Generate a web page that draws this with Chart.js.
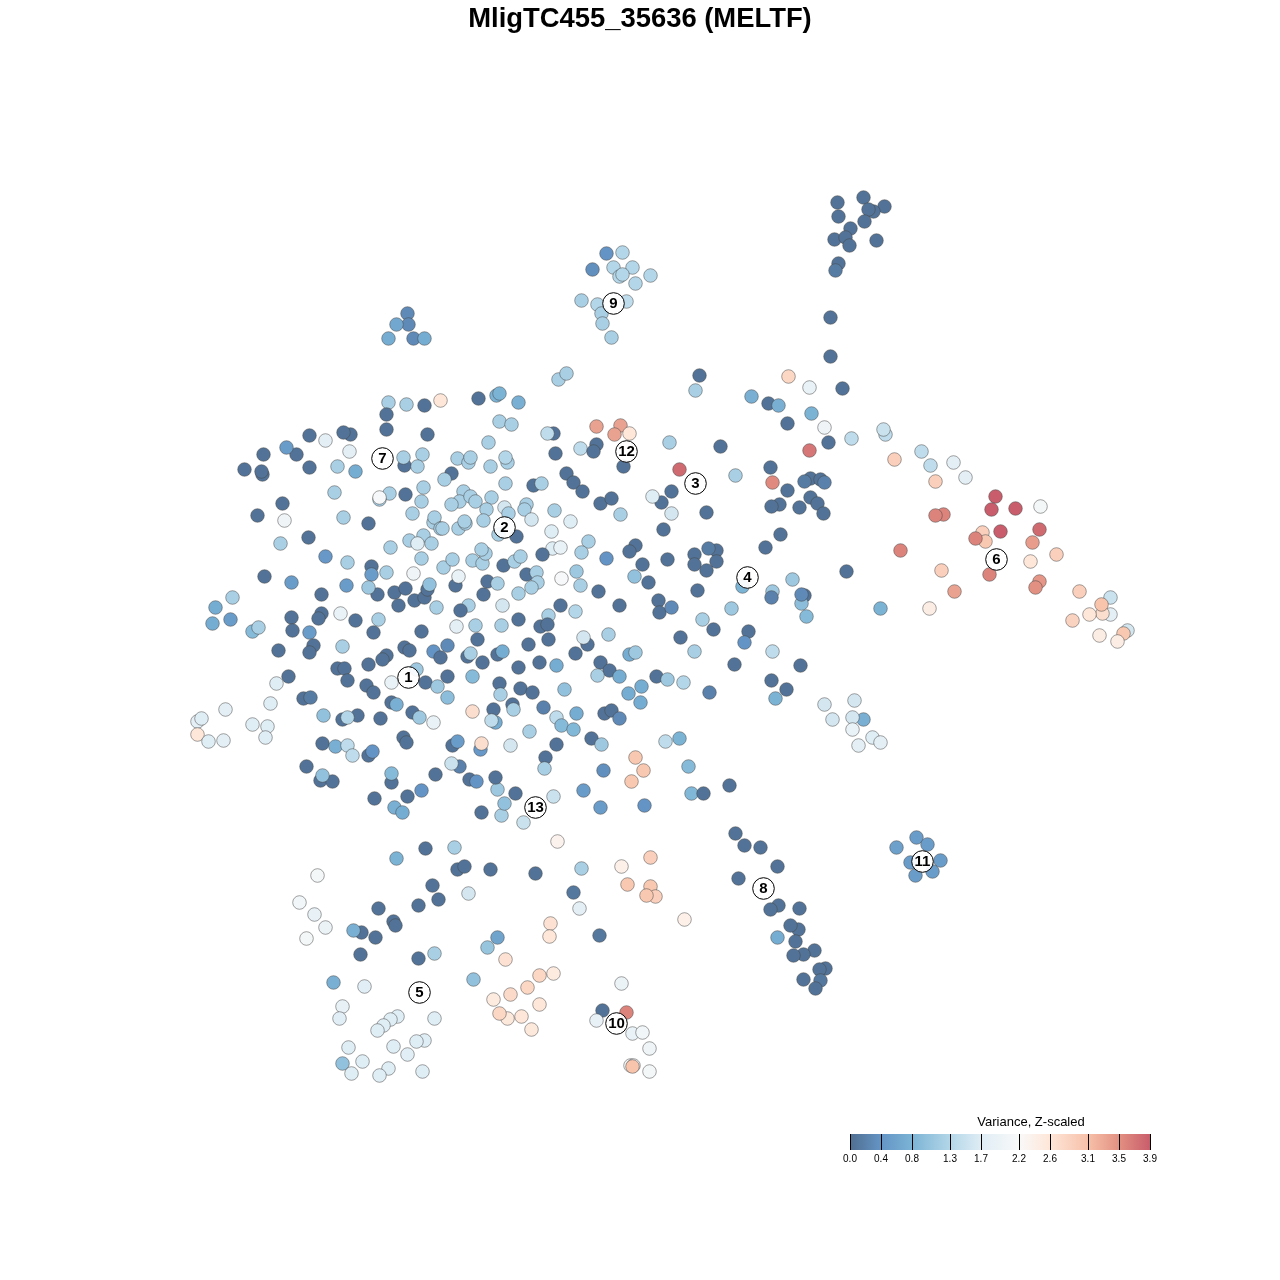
<!DOCTYPE html>
<html>
<head>
<meta charset="utf-8">
<title>MligTC455_35636 (MELTF)</title>
<script src="https://cdn.jsdelivr.net/npm/chart.js@4/dist/chart.umd.min.js"></script>
<style>
  html, body { margin: 0; padding: 0; background: #fff; }
  canvas { display: block; }
</style>
</head>
<body>
<canvas id="tsne" width="1280" height="1280"></canvas>
<script>
// t-SNE positions, one cell per entry, same row layout in all three arrays
const cellX = [
  388,406,424,386,386,427,309,325,350,343,
  349,263,296,286,244,262,261,309,337,355,
  404,403,422,417,334,389,379,379,405,423,
  421,412,282,257,284,343,368,280,308,325,
  347,371,371,386,390,409,423,431,417,421,
  413,433,434,440,264,291,346,321,377,394,
  405,414,424,427,429,398,368,232,215,212,
  230,291,321,318,340,355,378,436,252,258,
  292,309,373,421,342,313,309,278,368,404,
  409,433,440,386,382,337,344,347,288,276,
  270,225,197,201,197,208,223,252,267,265,
  303,310,323,342,357,347,380,366,373,391,
  416,425,437,391,396,412,419,433,322,335,
  347,352,368,372,403,406,306,320,332,322,
  391,391,374,407,421,394,402,425,396,435,
  440,478,496,499,518,499,511,488,457,468,
  470,490,507,505,451,444,505,463,459,451,
  470,475,491,486,483,442,458,465,464,504,
  508,498,516,526,524,531,533,541,554,570,
  551,588,581,552,560,542,606,635,629,642,
  667,634,648,598,619,658,659,671,576,580,
  561,560,575,548,540,547,518,501,502,518,
  483,468,460,456,475,487,497,455,458,503,
  514,520,526,536,537,531,443,452,472,482,
  485,481,553,547,555,596,620,614,629,580,
  596,593,623,669,679,566,573,582,600,611,
  620,661,652,671,671,663,558,566,608,548,
  528,477,447,467,470,482,497,502,518,539,
  556,472,447,447,499,500,520,532,564,472,
  493,495,491,512,513,543,556,561,576,573,
  529,510,556,545,544,591,601,635,643,631,
  603,665,679,688,583,600,644,553,523,501,
  504,497,515,495,469,476,481,459,451,452,
  457,480,481,454,557,650,621,581,457,464,
  490,535,587,583,575,600,609,597,619,629,
  635,680,656,667,683,641,628,640,604,
  611,619,694,697,742,772,771,804,801,801,
  806,880,929,731,702,713,748,744,772,734,
  800,771,786,775,709,824,854,832,863,852,
  852,872,880,858,691,703,729,735,744,760,
  896,916,927,910,940,932,915,699,695,751,
  768,778,788,809,842,811,787,824,828,851,
  885,883,894,720,809,770,735,772,810,804,
  820,824,787,810,817,823,799,779,771,706,
  780,765,716,708,694,694,716,706,900,846,
  792,863,884,837,873,868,838,864,850,834,
  845,849,876,838,835,830,830,921,930,953,
  935,965,995,991,1015,1040,943,935,982,985,
  975,1000,1039,1032,1056,1030,989,941,1039,1035,
  954,1079,1110,1110,1102,1101,1089,1072,1127,1123,
  1099,1117,317,299,314,325,306,432,438,
  418,468,378,393,395,361,353,375,360,418,
  434,497,487,505,333,364,473,342,339,434,
  397,390,383,377,424,416,393,348,407,362,
  342,351,388,379,422,627,650,655,646,684,
  573,579,550,549,599,553,539,527,510,493,
  539,507,499,521,531,621,602,626,596,632,
  642,649,630,633,632,649,777,738,778,770,
  799,798,790,777,795,814,803,793,825,819,
  803,820,815,407,408,396,388,413,424,606,
  622,592,613,632,619,622,650,635,581,597,
  626,601,602,611
];
const cellY = [
  402,404,405,414,429,434,435,440,434,432,
  451,454,454,447,469,474,471,467,466,471,
  465,457,454,466,492,493,499,497,494,487,
  501,513,503,515,520,517,523,543,537,556,
  562,566,574,572,547,540,535,543,543,558,
  573,522,517,528,576,582,585,594,594,592,
  588,600,597,589,584,605,587,597,607,623,
  619,617,613,618,613,620,619,607,631,627,
  630,632,632,631,646,645,652,650,664,647,
  650,651,657,655,659,668,668,680,676,683,
  703,709,721,718,734,741,740,724,726,737,
  698,697,715,719,715,717,718,685,692,682,
  669,682,686,702,704,712,717,722,743,746,
  745,755,755,751,737,742,766,780,781,775,
  782,773,798,796,790,807,812,848,858,774,
  400,398,395,393,402,421,424,442,458,462,
  457,466,462,457,473,479,483,491,501,504,
  496,501,497,509,520,528,528,523,521,507,
  513,534,536,504,509,519,485,483,510,521,
  531,541,552,548,547,554,558,545,551,564,
  559,576,582,591,605,600,612,607,571,585,
  578,605,611,615,626,624,619,625,605,593,
  594,605,610,626,625,581,583,585,576,565,
  561,556,574,572,582,587,567,559,560,563,
  553,549,433,433,453,426,425,434,433,448,
  444,451,466,442,469,473,482,491,503,498,
  514,502,496,491,513,529,379,373,634,639,
  644,639,645,656,653,662,654,651,667,662,
  665,676,676,697,683,694,688,692,689,711,
  709,722,720,704,709,707,717,725,713,729,
  731,745,744,757,768,738,744,757,770,781,
  770,741,738,766,790,807,805,796,822,815,
  803,789,793,777,779,781,812,766,763,745,
  741,749,743,847,841,857,866,868,869,866,
  869,873,644,637,653,662,670,675,676,654,
  652,637,676,679,682,686,693,702,713,
  710,718,651,590,586,591,597,595,603,594,
  616,608,608,608,619,629,631,642,651,664,
  665,680,689,698,692,704,700,719,719,717,
  729,737,742,745,793,793,785,833,845,847,
  847,837,844,862,860,871,875,375,390,396,
  403,405,376,387,388,413,423,427,442,438,
  434,429,459,446,450,467,475,482,478,481,
  479,482,490,497,503,513,507,504,506,512,
  534,547,550,548,554,564,561,570,550,571,
  579,197,206,202,211,209,216,221,228,239,
  237,245,240,263,270,317,356,451,465,462,
  481,477,496,509,508,506,514,515,532,541,
  538,531,529,542,554,561,574,570,581,587,
  591,591,597,614,613,604,614,620,630,633,
  635,641,875,902,914,927,938,885,899,
  905,893,908,921,925,932,930,937,954,958,
  953,937,947,959,982,986,979,1006,1018,1018,
  1016,1019,1025,1030,1040,1041,1046,1047,1054,1061,
  1063,1073,1068,1075,1071,884,886,896,895,919,
  892,908,923,936,935,973,975,987,994,999,
  1004,1018,1013,1016,1029,983,1010,1012,1020,1033,
  1032,1048,1065,1065,1066,1071,866,878,905,909,
  908,929,925,937,941,950,954,955,968,969,
  979,980,988,313,324,324,338,338,338,253,
  252,269,267,267,276,274,275,283,300,304,
  301,313,323,337
];
const cellVariance = [
  1.2,1.2,.05,.05,.05,.05,.05,1.8,.05,.05,
  1.8,.05,.05,.5,.05,.05,.05,.05,1.2,.7,
  .05,1.2,1.2,1.2,1.2,1.2,1.2,2.15,.05,1.2,
  1.2,1.2,.05,.05,2,1.2,.05,1.2,.05,.45,
  1.2,.05,.5,1.2,1.2,1.2,1.2,1.2,1.7,1.2,
  2,1.2,1.2,1.2,.05,.5,.5,.05,.05,.05,
  .05,.05,.05,.05,1,.05,1.1,1.2,.7,.7,
  .5,.05,.05,.05,1.9,.05,1.2,1.2,.9,1.2,
  .05,.5,.05,.05,1.2,.05,.05,.05,.05,.05,
  .05,.4,.05,.05,.05,.05,.05,.05,.05,1.7,
  1.7,1.8,1.8,1.7,2.6,1.7,1.8,1.7,1.7,1.7,
  .05,.15,1,.05,.05,1.3,.05,.05,.05,1.9,
  1.1,.05,1.1,.05,.75,.05,1.1,1.9,.05,.75,
  1.4,1.4,.05,.4,.05,.05,.05,.05,.05,1,
  .05,.9,.05,.05,.4,.75,.7,.05,.8,.05,
  2.6,.05,.8,.8,.75,1.2,1.2,1.2,1.2,1.2,
  1.2,1.2,1.2,1.3,.05,1.2,1.2,1.2,1.2,1.2,
  1.2,1.2,1.2,1.2,1.2,1.2,1.2,1.2,1.2,1.6,
  1.2,1.2,.05,1.2,1.2,1.6,.05,1.2,1.2,1.7,
  1.7,1.2,1.2,1.7,1.9,.05,.4,.05,.05,.05,
  .05,1,.05,.05,.05,.05,.05,.3,1.1,1.2,
  2.15,.05,1.3,1.2,.05,.05,.05,1.2,1.6,1.2,
  .05,1.2,.05,1.8,1.2,.05,1.2,.05,1.9,.05,
  1.2,1.2,.05,1.2,1.2,1.2,1.2,1.2,1.2,1.2,
  1.2,1.2,.05,1.4,.05,3.35,3.35,3.35,2.6,1.4,
  .05,.05,.05,1.2,3.8,.05,.05,.05,.05,.05,
  1.2,.05,1.7,.05,1.6,.05,1.2,1.2,1.2,.05,
  .05,.05,.3,.05,1.2,.05,.05,.7,.05,.05,
  .7,.9,.05,.95,.05,1.2,.05,.05,1,2.7,
  .05,.7,1.4,.05,1.2,.2,1.4,.9,.7,.85,
  1.2,1.6,.05,.05,1.2,.05,1.1,3,3,3,
  .35,1.4,.8,.9,.5,.5,.4,1.5,1.5,1.2,
  1,1.1,.05,.05,.05,.4,.05,.2,1.5,.05,
  .5,.45,2.7,1.2,2.35,2.9,2.4,1.2,.05,.05,
  .05,.05,.05,1.6,.05,.05,.05,1.2,.7,.7,
  1.1,.05,.05,1.1,1.3,.7,.7,.7,.05,
  .05,.3,1.2,.05,.8,1.1,.2,.05,.95,.3,
  .9,.8,2.45,1.1,1.2,.05,.05,.4,1.4,.05,
  .05,.05,.05,.8,.2,1.6,1.6,1.6,.75,1.6,
  1.9,1.7,1.8,1.8,.85,.05,.05,.05,.05,.05,
  .55,.5,.5,.5,.5,.5,.5,.05,1.2,.75,
  .05,.75,2.8,1.9,.05,.8,.05,2,.05,1.4,
  1.4,1.5,2.9,.05,3.7,.05,1.2,3.55,.05,.15,
  .05,.2,.05,.05,.05,.05,.05,.05,.05,.05,
  .05,.05,.05,.15,.05,.05,.05,.05,3.6,.05,
  1.1,.05,.05,.05,.05,.05,.05,.05,.05,.05,
  .05,.05,.05,.05,.15,.05,.05,1.4,1.4,1.8,
  2.9,1.8,3.9,3.9,3.9,2.1,3.6,3.6,2.9,3,
  3.6,3.9,3.8,3.4,2.9,2.6,3.6,2.9,3.45,3.5,
  3.35,2.9,1.5,1.8,2.7,3.05,2.6,2.85,1.6,3,
  2.45,2.45,2.1,2.05,1.85,1.95,2.1,.05,.05,
  .05,1.6,.05,.05,.05,.05,.75,.05,.05,.05,
  1.2,.6,1.05,2.65,.75,1.75,1,1.85,1.75,1.7,
  1.7,1.7,1.7,1.7,1.7,1.7,1.7,1.7,1.75,1.7,
  1,1.7,1.7,1.7,1.7,3,3,2.9,3,2.4,
  .1,1.8,2.65,2.6,.1,2.5,2.8,2.8,2.75,2.5,
  2.6,2.55,2.8,2.6,2.55,1.95,.05,3.6,1.85,1.9,
  2.05,2,2.1,2.1,3.05,2.1,.05,.05,.05,.05,
  .05,.05,.05,.7,.05,.05,.05,.05,.05,.05,
  .05,.1,.05,.3,.3,.65,.7,.3,.7,.4,
  1.3,.35,1.3,1.3,1.3,1.3,1.3,1.3,1.2,1.3,
  1.4,1.2,1.2,1.2
];

// numbered cluster markers
const clusterX = [408,504,695,747,419,996,382,763,613,616,922,626,535];
const clusterY = [677,527,483,577,992,559,458,888,303,1023,861,451,807];
const clusterNames = ['1','2','3','4','5','6','7','8','9','10','11','12','13'];

// colour key
const keyTicks = [0, 0.4, 0.8, 1.3, 1.7, 2.2, 2.6, 3.1, 3.5, 3.9];
const keyTickLabels = ['0.0','0.4','0.8','1.3','1.7','2.2','2.6','3.1','3.5','3.9'];
const keyColors = ['#053061','#2166AC','#4393C3','#92C5DE','#D1E5F0','#F7F7F7','#FDDBC7','#F4A582','#D6604D','#B2182B'];

const FADE = 0.7; // palette is washed out towards white, points stay opaque
const KEY_LEFT = 850, KEY_RIGHT = 1150;
const TITLE_BOTTOM = 35.88; // height the title block takes, so pixel values map 1:1

function hexToRgb(h) {
    return [parseInt(h.slice(1, 3), 16), parseInt(h.slice(3, 5), 16), parseInt(h.slice(5, 7), 16)];
}

function colorFor(v) {
    let i = 0;
    while (i < keyTicks.length - 2 && v > keyTicks[i + 1]) i++;
    let t = (v - keyTicks[i]) / (keyTicks[i + 1] - keyTicks[i]);
    t = Math.max(0, Math.min(1, t));
    let a = hexToRgb(keyColors[i]), b = hexToRgb(keyColors[i + 1]);
    let c = a.map((x, k) => Math.round((x + (b[k] - x) * t) * FADE + 255 * (1 - FADE)));
    return 'rgb(' + c[0] + ',' + c[1] + ',' + c[2] + ')';
}

// cluster numbers and the colour key
const annotations = {
    id: 'annotations',
    afterDatasetsDraw(chart) {
        const ctx = chart.ctx;
        const xs = chart.scales.x, ys = chart.scales.y;

        ctx.save();
        ctx.fillStyle = '#000';
        ctx.font = 'bold 15px "Liberation Sans"';
        ctx.textAlign = 'center';
        ctx.textBaseline = 'middle';
        clusterNames.forEach((name, i) => {
            ctx.fillText(name, xs.getPixelForValue(clusterX[i]), ys.getPixelForValue(clusterY[i]) + 0.5);
        });

        const left = Math.floor(xs.getPixelForValue(KEY_LEFT)), right = Math.floor(xs.getPixelForValue(KEY_RIGHT));
        const top = Math.floor(ys.getPixelForValue(1134)), bottom = Math.floor(ys.getPixelForValue(1150));
        const maxV = keyTicks[keyTicks.length - 1];
        const grad = ctx.createLinearGradient(left, 0, right, 0);
        keyTicks.forEach((v) => grad.addColorStop(v / maxV, colorFor(v)));
        ctx.fillStyle = grad;
        ctx.fillRect(left, top, right - left, bottom - top);

        ctx.strokeStyle = '#000';
        ctx.lineWidth = 1;
        ctx.fillStyle = '#000';
        ctx.font = '10px "Liberation Sans"';
        keyTicks.forEach((v, i) => {
            let px = Math.round(left + (right - left) * v / maxV) + 0.5;
            ctx.beginPath();
            ctx.moveTo(px, top);
            ctx.lineTo(px, bottom);
            ctx.stroke();
            ctx.fillText(keyTickLabels[i], px - 0.5, ys.getPixelForValue(1159));
        });

        ctx.font = '13px "Liberation Sans"';
        ctx.fillText('Variance, Z-scaled', xs.getPixelForValue(1031) - 0.5, ys.getPixelForValue(1122));
        ctx.restore();
    }
};

new Chart(document.getElementById('tsne').getContext('2d'), {
    type: 'scatter',
    data: {
        datasets: [{
            // first dataset is painted last, so the markers sit on top
            data: clusterX.map((x, i) => ({ x: x, y: clusterY[i] })),
            pointRadius: 10.8,
            pointBackgroundColor: 'rgba(255,255,255,0.92)',
            pointBorderColor: '#000',
            pointBorderWidth: 1
        }, {
            data: cellX.map((x, i) => ({ x: x, y: cellY[i] })),
            pointRadius: 6.8,
            pointBackgroundColor: cellVariance.map(colorFor),
            pointBorderColor: 'rgba(70,70,70,0.5)',
            pointBorderWidth: 1
        }]
    },
    options: {
        responsive: false,
        animation: false,
        layout: { padding: 0, autoPadding: false },
        scales: {
            x: { type: 'linear', display: false, min: -0.5, max: 1279.5 },
            y: { type: 'linear', display: false, reverse: true, min: TITLE_BOTTOM - 0.5, max: 1279.5 }
        },
        plugins: {
            legend: { display: false },
            tooltip: { enabled: false },
            title: {
                display: true,
                text: 'MligTC455_35636 (MELTF)',
                color: '#000',
                font: { family: '"Liberation Sans"', size: 27.4, weight: 'bold', lineHeight: 1.2 },
                padding: { top: 3, bottom: 0 }
            }
        }
    },
    plugins: [annotations]
});
</script>
</body>
</html>
